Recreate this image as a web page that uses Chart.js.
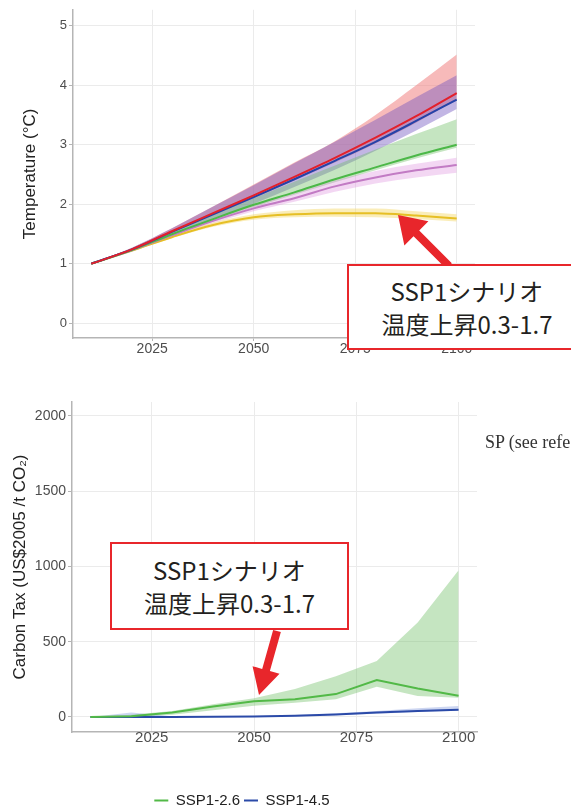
<!DOCTYPE html>
<html>
<head>
<meta charset="utf-8">
<script src="https://cdn.jsdelivr.net/npm/chart.js@4.4.0/dist/chart.umd.min.js"></script>
<style>
html, body { margin: 0; padding: 0; background: #fff; }
#wrap { position: relative; width: 571px; height: 810px; overflow: hidden; }
canvas { position: absolute; left: 0; }
#tempChart { top: 0; }
#taxChart { top: 370px; }
.note {
  position: absolute; box-sizing: border-box; background: #fff;
  border: 2px solid #e8262b; color: #231f20;
  font-family: "Noto Sans CJK JP", sans-serif; font-size: 24px; line-height: 33px;
  display: flex; flex-direction: column; justify-content: center; align-items: center;
}
#side { position: absolute; left: 485px; top: 432px; white-space: nowrap;
  font-family: "Liberation Serif", serif; font-size: 18px; color: #333; }
svg { position: absolute; left: 0; top: 0; }
</style>
</head>
<body>
<div id="wrap">
  <canvas id="tempChart" width="571" height="370"></canvas>
  <canvas id="taxChart" width="571" height="448"></canvas>
  <div id="side">SP (see refe</div>
  <svg id="arrows" width="571" height="810"></svg>
  <div class="note" style="left:347px;top:264px;width:240px;height:86px;"><div>SSP1シナリオ</div><div>温度上昇0.3-1.7</div></div>
  <div class="note" style="left:110px;top:542px;width:239px;height:88px;"><div>SSP1シナリオ</div><div>温度上昇0.3-1.7</div></div>
</div>
<script>
// years shared by both panels
const years = [2010, 2020, 2030, 2040, 2050, 2060, 2070, 2080, 2090, 2100];
const xTickYears = [2025, 2050, 2075, 2100];

// temperature (°C) - central lines
const tempRed    = [1.0, 1.24, 1.55, 1.85, 2.15, 2.46, 2.78, 3.12, 3.48, 3.87];
const tempBlue   = [1.0, 1.24, 1.54, 1.83, 2.12, 2.42, 2.73, 3.05, 3.40, 3.76];
const tempGreen  = [1.0, 1.23, 1.50, 1.75, 1.99, 2.20, 2.42, 2.62, 2.82, 3.00];
const tempPink   = [1.0, 1.23, 1.48, 1.72, 1.93, 2.10, 2.30, 2.45, 2.57, 2.66];
const tempYellow = [1.0, 1.22, 1.45, 1.65, 1.78, 1.83, 1.85, 1.85, 1.81, 1.76];

// temperature ranges
const redHi    = [1.0, 1.27, 1.60, 1.96, 2.33, 2.70, 3.06, 3.50, 4.00, 4.52];
const redLo    = [1.0, 1.23, 1.53, 1.82, 2.10, 2.40, 2.70, 3.02, 3.37, 3.76];
const blueHi   = [1.0, 1.27, 1.60, 1.96, 2.32, 2.69, 3.05, 3.42, 3.80, 4.17];
const blueLo   = [1.0, 1.20, 1.47, 1.74, 2.01, 2.29, 2.58, 2.90, 3.24, 3.60];
const greenHi  = [1.0, 1.24, 1.53, 1.82, 2.10, 2.38, 2.65, 2.92, 3.18, 3.43];
const greenLo  = [1.0, 1.22, 1.48, 1.72, 1.95, 2.16, 2.37, 2.57, 2.77, 2.95];
const pinkHi   = [1.0, 1.24, 1.50, 1.76, 1.98, 2.18, 2.40, 2.56, 2.68, 2.78];
const pinkLo   = [1.0, 1.22, 1.46, 1.68, 1.88, 2.04, 2.21, 2.35, 2.45, 2.53];
const yellowHi = [1.0, 1.23, 1.48, 1.69, 1.83, 1.90, 1.93, 1.93, 1.88, 1.83];
const yellowLo = [1.0, 1.21, 1.43, 1.62, 1.74, 1.78, 1.79, 1.78, 1.75, 1.71];

// carbon tax (US$2005 / t CO2)
const taxLabels = ['SSP1-2.6', 'SSP1-4.5'];
const tax26   = [0, 5, 30, 70, 105, 118, 152, 246, 189, 141];
const tax26Hi = [0, 15, 40, 85, 125, 185, 270, 372, 628, 975];
const tax26Lo = [0, 0, 15, 45, 75, 95, 118, 200, 140, 128];
const tax45   = [0, 0, 0, 1, 3, 8, 17, 29, 40, 48];
const tax45Hi = [0, 30, 5, 4, 6, 13, 25, 40, 58, 72];
const tax45Lo = [0, 0, 0, 0, 1, 5, 12, 22, 33, 42];

const tempTicks = [0, 1, 2, 3, 4, 5];
const taxTicks = [0, 500, 1000, 1500, 2000];

const FONT = '"Liberation Sans", Arial, sans-serif';
const pts = arr => arr.map((v, i) => ({ x: years[i], y: v }));

function line(data, color, order, label, curved) {
  return { label: label || '', data: pts(data), borderColor: color, backgroundColor: color,
    borderWidth: 2, pointRadius: 0, fill: false, order: order,
    cubicInterpolationMode: curved ? 'monotone' : 'default', tension: 0 };
}
function band(lo, hi, color, order, curved) {
  const mode = curved ? 'monotone' : 'default';
  return [
    { label: '', data: pts(lo), borderWidth: 0, pointRadius: 0, fill: false, order: order,
      cubicInterpolationMode: mode, tension: 0 },
    { label: '', data: pts(hi), borderWidth: 0, pointRadius: 0, fill: '-1', order: order,
      backgroundColor: color, cubicInterpolationMode: mode, tension: 0 }
  ];
}

function xAxis(size, tickLen, pad, height) {
  return {
    type: 'linear', min: 2005.5, max: 2104.5,
    afterBuildTicks: s => { s.ticks = xTickYears.map(v => ({ value: v })); },
    afterFit: s => { s.height = height; },
    grid: { color: '#ebebeb', tickColor: '#b5b5b5', tickLength: tickLen, drawTicks: tickLen > 0 },
    border: { color: '#b5b5b5', width: 1.5 },
    ticks: { color: '#4d4d4d', font: { family: FONT, size: size }, padding: pad,
      maxRotation: 0, autoSkip: false, callback: v => String(v) }
  };
}
function yAxis(min, max, tickVals, width, title, titlePad, size) {
  return {
    min: min, max: max,
    afterBuildTicks: s => { s.ticks = tickVals.map(v => ({ value: v })); },
    afterFit: s => { s.width = width; },
    grid: { color: '#ebebeb', tickColor: '#b5b5b5', tickLength: 4 },
    border: { color: '#b5b5b5', width: 1.5 },
    ticks: { color: '#4d4d4d', font: { family: FONT, size: size }, padding: 2,
      callback: v => String(v) },
    title: { display: true, text: title, color: '#222', font: { family: FONT, size: 17 },
      padding: { top: titlePad, bottom: 0 } }
  };
}

new Chart(document.getElementById('tempChart'), {
  type: 'line',
  data: {
    datasets: [
      line(tempRed, '#e3202b', 0, '', true),
      line(tempBlue, '#2543a8', 0, '', true),
      line(tempGreen, '#4cb848', 0, '', true),
      line(tempPink, '#c27bc4', 0, '', true),
      line(tempYellow, '#e6bf25', 0, '', true),
      ...band(yellowLo, yellowHi, 'rgba(245,215,100,0.45)', 1, true),
      ...band(pinkLo, pinkHi, 'rgba(220,140,220,0.35)', 2, true),
      ...band(greenLo, greenHi, 'rgba(110,190,100,0.4)', 3, true),
      ...band(blueLo, blueHi, 'rgba(110,80,190,0.42)', 4, true),
      ...band(redLo, redHi, 'rgba(240,130,130,0.55)', 5, true)
    ]
  },
  options: {
    responsive: false, animation: false,
    layout: { padding: { top: 8, right: 96, left: 0, bottom: 0 } },
    plugins: { legend: { display: false }, tooltip: { enabled: false } },
    scales: {
      x: xAxis(14, 3, 0, 32),
      y: yAxis(-0.25, 5.27, tempTicks, 73, 'Temperature (°C)', 20, 13)
    }
  }
});

new Chart(document.getElementById('taxChart'), {
  type: 'line',
  data: {
    datasets: [
      line(tax26, '#52b947', 0, taxLabels[0], false),
      line(tax45, '#2b4aa8', 0, taxLabels[1], false),
      ...band(tax45Lo, tax45Hi, 'rgba(90,120,210,0.3)', 1, false),
      ...band(tax26Lo, tax26Hi, 'rgba(110,190,100,0.4)', 2, false)
    ]
  },
  options: {
    responsive: false, animation: false,
    layout: { padding: { top: 32, right: 94, left: 7, bottom: 0 } },
    plugins: {
      tooltip: { enabled: false },
      legend: {
        position: 'bottom',
        labels: {
          filter: item => item.text !== '',
          usePointStyle: true, pointStyle: 'line', pointStyleWidth: 14,
          color: '#222', font: { family: FONT, size: 15 }, padding: 4
        }
      }
    },
    scales: {
      x: xAxis(15, 0, -3, 57),
      y: yAxis(-100, 2093, taxTicks, 65, 'Carbon Tax (US$2005 /t CO₂)', 3, 14)
    }
  }
});

// red call-out arrows
function arrow(tail, tip, shaft, headLen, headW) {
  const dx = tip[0] - tail[0], dy = tip[1] - tail[1];
  const len = Math.hypot(dx, dy), ux = dx / len, uy = dy / len, nx = -uy, ny = ux;
  const bx = tip[0] - ux * headLen, by = tip[1] - uy * headLen;
  const p = [
    [tail[0] + nx * shaft / 2, tail[1] + ny * shaft / 2],
    [bx + nx * shaft / 2, by + ny * shaft / 2],
    [bx + nx * headW / 2, by + ny * headW / 2],
    tip,
    [bx - nx * headW / 2, by - ny * headW / 2],
    [bx - nx * shaft / 2, by - ny * shaft / 2],
    [tail[0] - nx * shaft / 2, tail[1] - ny * shaft / 2]
  ];
  const poly = document.createElementNS('http://www.w3.org/2000/svg', 'polygon');
  poly.setAttribute('points', p.map(q => q.join(',')).join(' '));
  poly.setAttribute('fill', '#e8262b');
  document.getElementById('arrows').appendChild(poly);
}
arrow([449, 266], [398, 215], 8, 26, 34);
arrow([277, 631], [259, 695], 8, 26, 28);
</script>
</body>
</html>
